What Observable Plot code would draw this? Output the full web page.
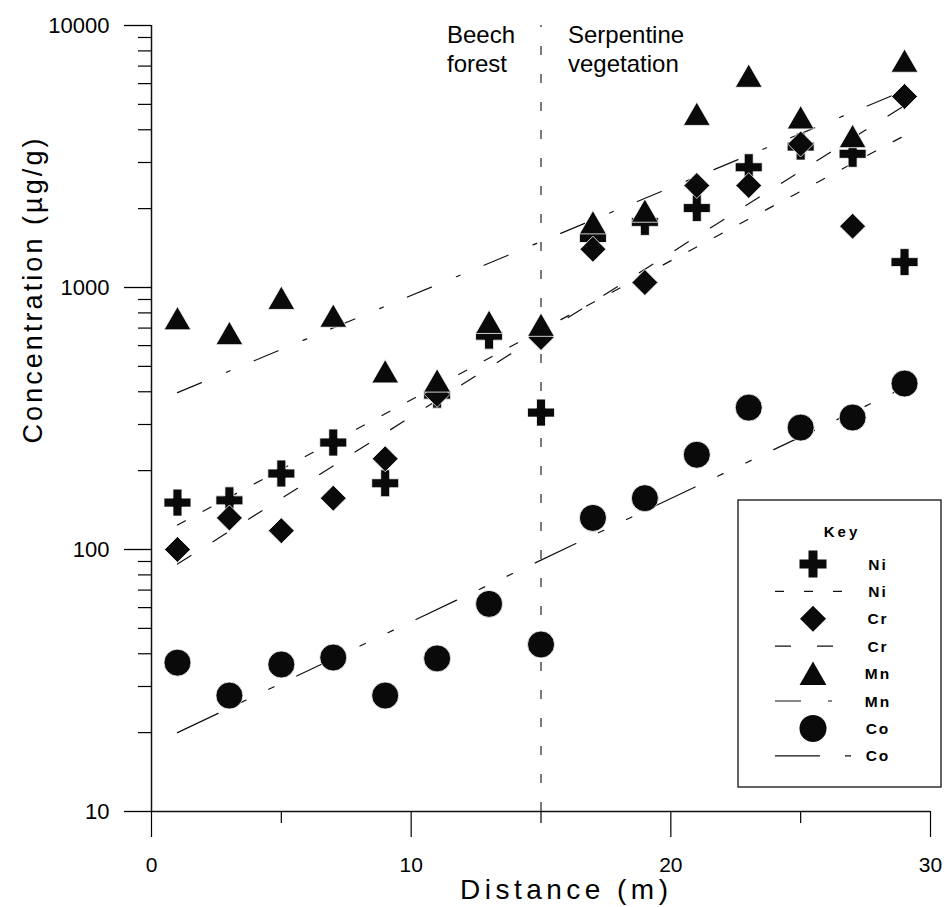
<!DOCTYPE html>
<html>
<head>
<meta charset="utf-8">
<script src="https://cdn.jsdelivr.net/npm/d3@7"></script>
<script src="https://cdn.jsdelivr.net/npm/@observablehq/plot@0.6"></script>
<style>
  body { margin: 0; background: #fff; }
  #chart { position: relative; width: 947px; height: 907px; }
</style>
</head>
<body>
<div id="chart"></div>
<script>
// ---------- data ----------
const distance = [1, 3, 5, 7, 9, 11, 13, 15, 17, 19, 21, 23, 25, 27, 29];
const ni = [151, 154, 195, 256, 179, 390, 655, 333, 1545, 1780, 2010, 2877, 3450, 3238, 1250];
const cr = [100, 132, 118, 157, 222, 391, null, 645, 1400, 1045, 2450, 2450, 3530, 1714, 5360];
const mn = [738, 648, 883, 755, 463, 427, 715, 697, 1715, 1900, 4450, 6220, 4315, 3660, 7100];
const co = [37, 27.7, 36.4, 38.7, 27.7, 38.4, 62, 43.4, 132, 157, 230, 348, 292, 319, 430];

// fitted (regression) lines, end points
const fitX = [1, 29];
const niFit = [124, 3800];
const crFit = [88, 4950];
const mnFit = [397, 5650];
const coFit = [20, 415];

const boundaryX = [15];
const yMajorTicks = [10, 100, 1000, 10000];
const yMinorTicks = [20, 30, 40, 50, 60, 70, 80, 90, 200, 300, 400, 500, 600, 700, 800, 900,
                     2000, 3000, 4000, 5000, 6000, 7000, 8000, 9000];
const xMajorTicks = [0, 10, 20, 30];
const xMinorTicks = [5, 15, 25];
const leftZoneLabel = ["Beech\nforest"];
const rightZoneLabel = ["Serpentine\nvegetation"];
const xTitle = ["Distance (m)"];
const yTitle = ["Concentration (\u00b5g/g)"];
const legendTitle = "Key";
const legendNames = ["Ni", "Ni", "Cr", "Cr", "Mn", "Mn", "Co", "Co"];

// ---------- styling ----------
const FONT = "'Liberation Sans', Arial, Helvetica, sans-serif";
const series = [
  {name: "Ni", values: ni, fit: niFit, symbol: "cross",    r: 11.35, dash: "9,20",            d3sym: d3.symbolCross},
  {name: "Cr", values: cr, fit: crFit, symbol: "diamond2", r: 11.7,  dash: "16,26",           d3sym: d3.symbolDiamond2},
  {name: "Mn", values: mn, fit: mnFit, symbol: "triangle", r: 10,    dash: "26,27,4,26",      d3sym: d3.symbolTriangle},
  {name: "Co", values: co, fit: coFit, symbol: "circle",   r: 13.5,  dash: "45,25,6,25,6,25", d3sym: d3.symbolCircle}
];
const drawOrder = ["Co", "Ni", "Cr", "Mn"];

const marks = [];
marks.push(Plot.ruleX(boundaryX, {y1: 10, y2: 10000, stroke: "#222", strokeWidth: 1.2, strokeDasharray: "9,19"}));
for (const s of series) {
  marks.push(Plot.line(fitX.map((x, i) => ({x, y: s.fit[i]})),
    {x: "x", y: "y", stroke: "#111", strokeWidth: 1.2, strokeDasharray: s.dash}));
}
for (const n of drawOrder) {
  const s = series.find(d => d.name === n);
  marks.push(Plot.dot(distance.map((x, i) => ({x, y: s.values[i]})).filter(d => d.y != null),
    {x: "x", y: "y", symbol: s.symbol, r: s.r, fill: "#0a0a0a", stroke: "white", strokeWidth: 0.8}));
}
// axes
marks.push(Plot.axisY({ticks: yMajorTicks, tickSize: 27, tickPadding: 15, tickFormat: d => String(d),
  fontSize: 22, label: null, strokeWidth: 1.3}));
marks.push(Plot.axisY({ticks: yMinorTicks, tickSize: 13, tickFormat: () => "", label: null, strokeWidth: 1.2}));
marks.push(Plot.axisX({ticks: xMajorTicks, tickSize: 26, tickPadding: 20, tickFormat: d => String(d),
  fontSize: 21, label: null, strokeWidth: 1.2}));
marks.push(Plot.axisX({ticks: xMinorTicks, tickSize: 12, tickFormat: () => "", label: null, strokeWidth: 1.2}));
marks.push(Plot.ruleX([0], {y1: 10, y2: 10000, stroke: "#111", strokeWidth: 1.5}));
marks.push(Plot.ruleY([10], {x1: 0, x2: 30, stroke: "#111", strokeWidth: 1.3}));
// annotations
marks.push(Plot.text(leftZoneLabel, {x: boundaryX[0], frameAnchor: "top", text: d => d, textAnchor: "start",
  lineAnchor: "top", dx: -94, dy: -2, fontSize: 24, lineHeight: 1.17}));
marks.push(Plot.text(rightZoneLabel, {x: boundaryX[0], frameAnchor: "top", text: d => d, textAnchor: "start",
  lineAnchor: "top", dx: 27, dy: -2, fontSize: 24, lineHeight: 1.17}));
marks.push(Plot.text(xTitle, {frameAnchor: "bottom", text: d => d, dx: 23, dy: 79, fontSize: 28, lineAnchor: "middle"}));
marks.push(Plot.text(yTitle, {frameAnchor: "left", text: d => d, rotate: -90, dx: -118, dy: 25, fontSize: 27, lineAnchor: "middle"}));

const plot = Plot.plot({
  width: 947,
  height: 907,
  marginLeft: 151,
  marginRight: 17,
  marginTop: 25,
  marginBottom: 96,
  style: {fontFamily: FONT, background: "white", color: "black", overflow: "visible"},
  x: {domain: [0, 30]},
  y: {type: "log", domain: [10, 10000]},
  marks
});

// widen the axis titles to the reference's letter spacing
d3.select(plot).selectAll("text").each(function () {
  if (this.textContent === xTitle[0]) d3.select(this).attr("textLength", 208).attr("lengthAdjust", "spacing");
  if (this.textContent === yTitle[0]) d3.select(this).attr("textLength", 305).attr("lengthAdjust", "spacing");
});

// ---------- legend ("Key" box inside the plot) ----------
const svg = d3.select(plot);
const lg = svg.append("g").attr("font-family", FONT);
lg.append("rect").attr("x", 738).attr("y", 500).attr("width", 203).attr("height", 287)
  .attr("fill", "white").attr("stroke", "#111").attr("stroke-width", 1.3);
lg.append("text").attr("x", 842).attr("y", 532).attr("dy", "0.35em").attr("text-anchor", "middle")
  .attr("font-size", 15).attr("font-weight", "bold").attr("letter-spacing", "3px").text(legendTitle);
legendNames.forEach((name, i) => {
  const s = series.find(d => d.name === name);
  const y = 564 + i * 27.4;
  if (i % 2 === 0) {
    const off = s.symbol === "triangle" ? 3.5 : 0;
    lg.append("path").attr("transform", `translate(813,${y + off})`)
      .attr("d", d3.symbol(s.d3sym, Math.PI * s.r * s.r)()).attr("fill", "#0a0a0a");
  } else {
    lg.append("line").attr("x1", 775).attr("x2", 851).attr("y1", y).attr("y2", y)
      .attr("stroke", "#111").attr("stroke-width", 1.2).attr("stroke-dasharray", s.dash);
  }
  lg.append("text").attr("x", 878).attr("y", y).attr("dy", "0.36em").attr("font-size", 15.5)
    .attr("font-weight", "bold").attr("letter-spacing", "2px").text(name);
});

document.getElementById("chart").appendChild(plot);
</script>
</body>
</html>
